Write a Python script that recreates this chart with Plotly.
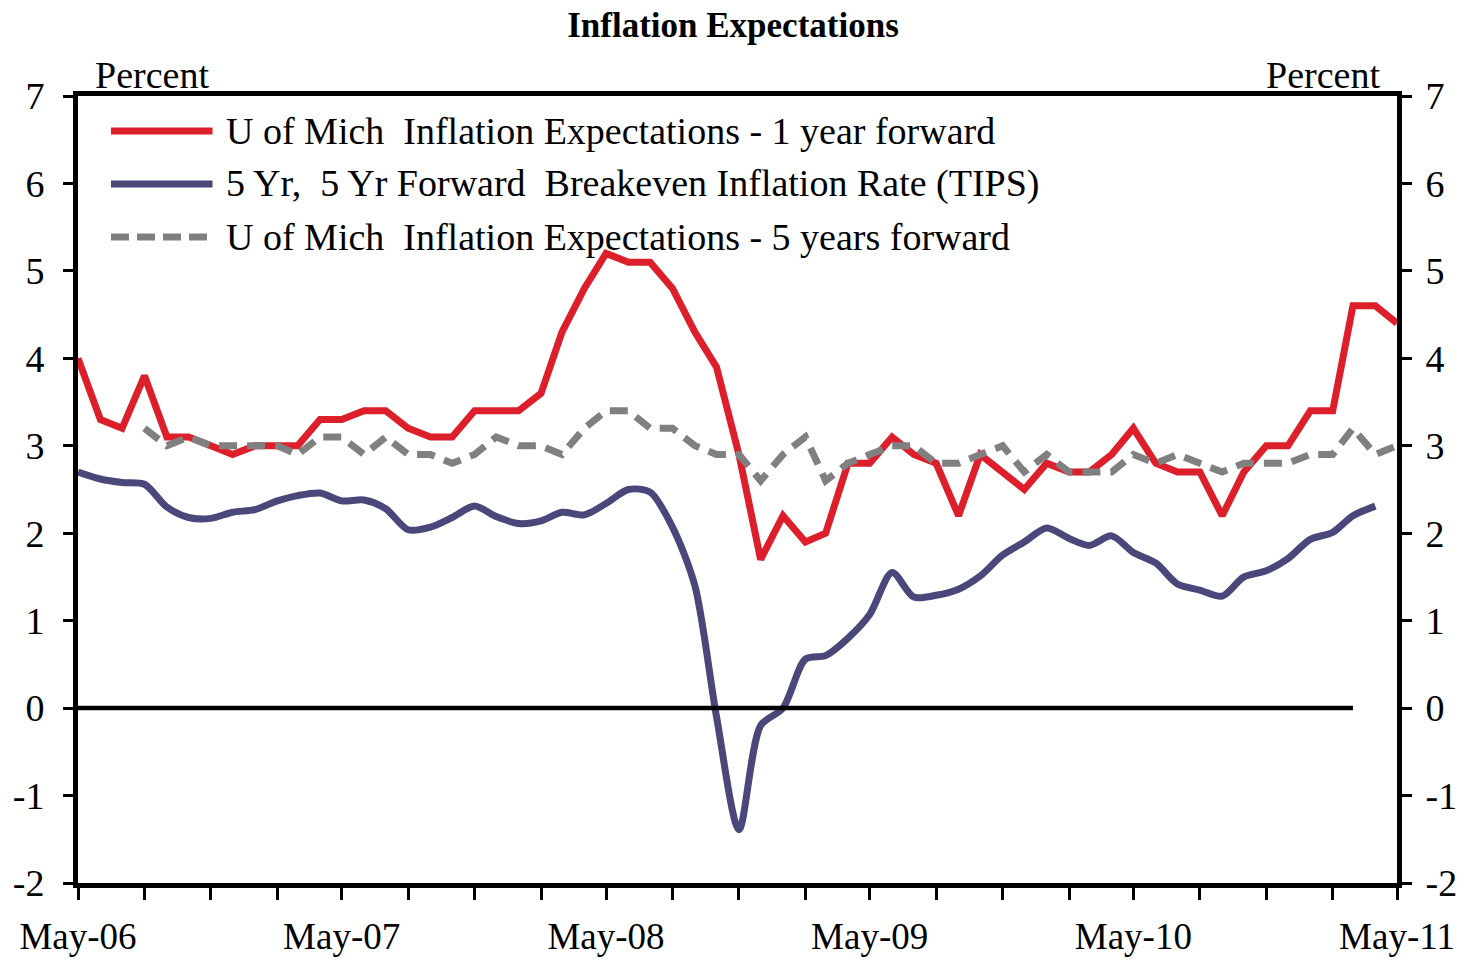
import pandas as pd
import plotly.graph_objects as go

# ---------------------------------------------------------------------------
# Data (monthly, May-06 .. May-11)
# ---------------------------------------------------------------------------

MONTHS = pd.date_range("2006-05-01", "2011-05-01", freq="MS")

# U of Mich 1 year forward: May-06 .. May-11
UMICH_1Y = [
    4.0, 3.3, 3.2, 3.8, 3.1, 3.1, 3.0, 2.9,
    3.0, 3.0, 3.0, 3.3, 3.3, 3.4, 3.4, 3.2, 3.1, 3.1, 3.4, 3.4,
    3.4, 3.6, 4.3, 4.8, 5.2, 5.1, 5.1, 4.8, 4.3, 3.9, 2.9, 1.7,
    2.2, 1.9, 2.0, 2.8, 2.8, 3.1, 2.9, 2.8, 2.2, 2.9, 2.7, 2.5,
    2.8, 2.7, 2.7, 2.9, 3.2, 2.8, 2.7, 2.7, 2.2, 2.7, 3.0, 3.0,
    3.4, 3.4, 4.6, 4.6, 4.4,
]

# 5Y5Y forward breakeven (TIPS): May-06 .. Apr-11
TIPS_5Y5Y = [
    2.70, 2.62, 2.58, 2.56, 2.30, 2.18, 2.17, 2.24,
    2.27, 2.37, 2.43, 2.46, 2.37, 2.38, 2.28, 2.04, 2.07, 2.18, 2.31, 2.19,
    2.11, 2.14, 2.24, 2.21, 2.34, 2.50, 2.47, 2.07, 1.40, -0.10, -1.39, -0.20,
    0.00, 0.56, 0.60, 0.80, 1.07, 1.55, 1.27, 1.29, 1.36, 1.51, 1.75, 1.90,
    2.06, 1.94, 1.86, 1.97, 1.78, 1.66, 1.42, 1.35, 1.28, 1.50, 1.57, 1.71,
    1.93, 2.01, 2.20, 2.31,
]

# U of Mich 5 years forward: Aug-06 .. May-11
UMICH_5Y = [
    3.2, 3.0, 3.1, 3.0, 3.0,
    3.0, 3.0, 2.9, 3.1, 3.1, 2.9, 3.1, 2.9, 2.9, 2.8, 2.9, 3.1,
    3.0, 3.0, 2.9, 3.2, 3.4, 3.4, 3.2, 3.2, 3.0, 2.9, 2.9, 2.6,
    2.9, 3.1, 2.6, 2.8, 2.9, 3.0, 3.0, 2.8, 2.8, 2.9, 3.0, 2.7,
    2.9, 2.7, 2.7, 2.7, 2.9, 2.8, 2.9, 2.8, 2.7, 2.8, 2.8, 2.8,
    2.9, 2.9, 3.2, 2.9, 3.0,
]

ZERO_LINE_START = "2006-05-01"
ZERO_LINE_END = "2011-03-01"

Y_TICKS = [-2, -1, 0, 1, 2, 3, 4, 5, 6, 7]
Y_TICK_TEXT = ["-2", "-1", "0", "1", "2", "3", "4", "5", "6", "7"]

NAMES = [
    "U of Mich  Inflation Expectations - 1 year forward",
    "5 Yr,  5 Yr Forward  Breakeven Inflation Rate (TIPS)",
    "U of Mich  Inflation Expectations - 5 years forward",
]
COLORS = ["#DC1F2A", "#4A477A", "#808080"]

FONT = "Liberation Serif, Times New Roman, serif"

# ---------------------------------------------------------------------------
# Figure
# ---------------------------------------------------------------------------

fig = go.Figure()

fig.add_trace(go.Scatter(
    x=MONTHS, y=UMICH_1Y, mode="lines", name=NAMES[0],
    line=dict(color=COLORS[0], width=7),
))
fig.add_trace(go.Scatter(
    x=MONTHS[:len(TIPS_5Y5Y)], y=TIPS_5Y5Y, mode="lines", name=NAMES[1],
    line=dict(color=COLORS[1], width=7, shape="spline", smoothing=0.8),
))
fig.add_trace(go.Scatter(
    x=MONTHS[3:3 + len(UMICH_5Y)], y=UMICH_5Y, mode="lines", name=NAMES[2],
    line=dict(color=COLORS[2], width=7, dash="18px,10px"),
))
# zero reference line, on the right-hand axis so that it gets drawn
fig.add_trace(go.Scatter(
    x=[ZERO_LINE_START, ZERO_LINE_END], y=[0, 0], mode="lines",
    line=dict(color="black", width=4.5), yaxis="y2", hoverinfo="skip",
))

# hand-built legend (long line samples, like the original)
legend_rows = [0.9555, 0.8882, 0.8208]
for name, color, yrow, dash in zip(NAMES, COLORS, legend_rows,
                                   ["solid", "solid", "18px,8px"]):
    fig.add_shape(type="line", xref="paper", yref="paper",
                  x0=0.025, x1=0.102, y0=yrow, y1=yrow,
                  line=dict(color=color, width=7, dash=dash))
    fig.add_annotation(text=name, xref="paper", yref="paper",
                       x=0.111, y=yrow, xanchor="left", yanchor="middle",
                       showarrow=False, font=dict(size=38))

fig.add_annotation(text="Percent", xref="paper", yref="paper",
                   x=0.056, y=1.027, xanchor="center", yanchor="middle",
                   showarrow=False, font=dict(size=38))
fig.add_annotation(text="Percent", xref="paper", yref="paper",
                   x=0.944, y=1.027, xanchor="center", yanchor="middle",
                   showarrow=False, font=dict(size=38))

fig.update_layout(
    width=1466, height=960,
    margin=dict(l=78, r=69, t=96, b=77),
    plot_bgcolor="white", paper_bgcolor="white",
    font=dict(family=FONT, size=38, color="black"),
    showlegend=False,
    title=dict(text="<b>Inflation Expectations</b>", x=0.5, xanchor="center",
               y=0.974, yanchor="middle", font=dict(size=35)),
    xaxis=dict(
        type="date", range=["2006-05-01", "2011-05-01"],
        tick0="2006-05-01", dtick="M12", tickformat="%b-%y",
        ticks="outside", ticklen=12, tickwidth=3, tickcolor="black",
        minor=dict(dtick="M3", tick0="2006-05-01", ticks="outside",
                   ticklen=12, tickwidth=3, tickcolor="black"),
        showline=True, linecolor="black", linewidth=5, mirror=True,
        showgrid=False, zeroline=False, ticklabelstandoff=5,
        tickfont=dict(size=37), automargin=False,
    ),
    yaxis=dict(
        range=[-2, 7], tickvals=Y_TICKS, ticktext=Y_TICK_TEXT,
        ticks="outside", ticklen=10, tickwidth=3,
        tickcolor="black", showline=True, linecolor="black", linewidth=5,
        showgrid=False, zeroline=False, ticklabelstandoff=11,
        automargin=False,
    ),
    yaxis2=dict(
        range=[-2, 7], tickvals=Y_TICKS, ticktext=Y_TICK_TEXT,
        overlaying="y", side="right", anchor="x",
        ticks="outside", ticklen=10, tickwidth=3, tickcolor="black",
        showline=True, linecolor="black", linewidth=5,
        showgrid=False, zeroline=False, ticklabelstandoff=6,
        automargin=False,
    ),
)

# drop the browser's default 8px body margin so the figure fills the window
fig.write_html(
    "out.html",
    config={"displayModeBar": False},
    post_script="document.body.style.margin='0';"
                "document.body.style.overflow='hidden';",
)
